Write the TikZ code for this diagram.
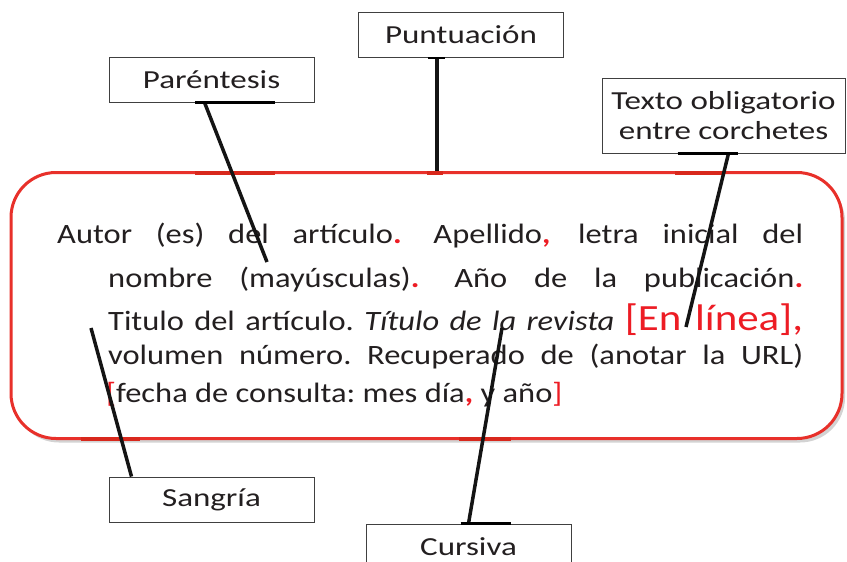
\documentclass[tikz,border=0pt]{standalone}
\usepackage{fontspec}
\setmainfont{Carlito}
\newfontfamily\mainf[FakeStretch=1.16]{Carlito}
\newfontfamily\labf[FakeStretch=1.27]{Carlito}
\usetikzlibrary{shadows,calc}
\definecolor{rojo}{HTML}{E8302A}
\definecolor{rojoosc}{HTML}{D8281C}
\definecolor{rojot}{HTML}{ED1C24}
\definecolor{tinta}{HTML}{231F20}
\newcommand{\rj}[1]{{\color{rojot}\bfseries#1}}
\newcommand{\rn}[1]{{\color{rojot}#1}}
\frenchspacing
\begin{document}
\begin{tikzpicture}[x=1pt,y=-1pt,
  lab/.style={draw=black!75, line width=0.9pt, fill=white, text=tinta,
    font=\labf\fontsize{26}{30}\selectfont, inner sep=0pt,
    minimum height=45pt, minimum width=205pt},
  conn/.style={draw=black!92, line width=3.5pt},
  edgemark/.style={draw=black, line width=2.2pt},
  redmark/.style={draw=rojoosc, line width=4pt},
  txt/.style={anchor=base west, inner sep=0pt, text=tinta,
    font=\mainf\fontsize{28}{32}\selectfont\frenchspacing},
]
\useasboundingbox (0,0) rectangle (847,562);
% main frame
\node[draw=rojo, line width=3pt, rounded corners=45pt, fill=white,
  minimum width=831pt, minimum height=266pt,
  drop shadow={opacity=0.35, shadow xshift=3pt, shadow yshift=-4pt}]
  (marco) at (426.5,305.5) {};
\draw[redmark] (195,172.5) -- (275,172.5);
\draw[redmark] (427,172.5) -- (443,172.5);
\draw[redmark] (675,172.5) -- (724,172.5);
\draw[redmark] (81,438.5) -- (140,438.5);
\draw[redmark] (459,438.5) -- (511,438.5);

% text lines
\node[txt] (l1) at (57,243) {\hbox to 746pt{Autor (es) del artículo\rj{.}\hspace{8pt} Apellido\rj{,}\hspace{4pt} letra inicial del}};
\node[txt] (l2) at (108,287) {\hbox to 695pt{nombre (mayúsculas)\rj{.}\hspace{8pt} Año de la publicación\rj{.}}};
\node[txt] (l3) at (108,330) {\hbox to 695pt{Titulo del artículo. \textit{Título de la revista} {\color{rojot}\fontsize{37}{40}\selectfont [En línea],}}};
\node[txt] (l4) at (108,364) {\hbox to 695pt{volumen número. Recuperado de (anotar la URL)}};
\node[txt] (l5) at (106,402) {\rn{[}fecha de consulta: mes día\rj{,} y año\rn{]}};

% labels
\node[lab] (punt) at (461,35) {Puntuación};
\node[lab] (par) at (211.5,79.5) {Paréntesis};
\node[lab, minimum width=243pt, minimum height=75pt, align=center] (tob) at (723.5,115.5) {Texto obligatorio\\entre corchetes};
\node[lab] (sang) at (211.5,499.5) {Sangría};
\node[lab] (curs) at (468.5,546.5) {Cursiva};

% free ends of connectors
\coordinate (parend) at (267,262);
\coordinate (tobend) at (686,327);
\coordinate (sangend) at (91,328);
\coordinate (cursend) at (502,328);

% connectors
\draw[conn] ([xshift=-7pt]par.south) -- (parend);
\draw[conn] ([xshift=-24pt]punt.south) -- ([xshift=-24pt]punt.south |- marco.north);
\draw[conn] ([xshift=5pt]tob.south) -- (tobend);
\draw[conn] ([xshift=-80pt]sang.north) -- (sangend);
\draw[conn] (curs.north) -- (cursend);

% thick marks on box edges
\draw[edgemark] ([xshift=-16.5pt]par.south) -- ([xshift=63.5pt]par.south);
\draw[edgemark] ([xshift=-33pt]punt.south) -- ([xshift=-16pt]punt.south);
\draw[edgemark] ([xshift=-46pt]tob.south) -- ([xshift=14pt]tob.south);
\draw[edgemark] ([xshift=-8pt]curs.north) -- ([xshift=42pt]curs.north);
\end{tikzpicture}
\end{document}
